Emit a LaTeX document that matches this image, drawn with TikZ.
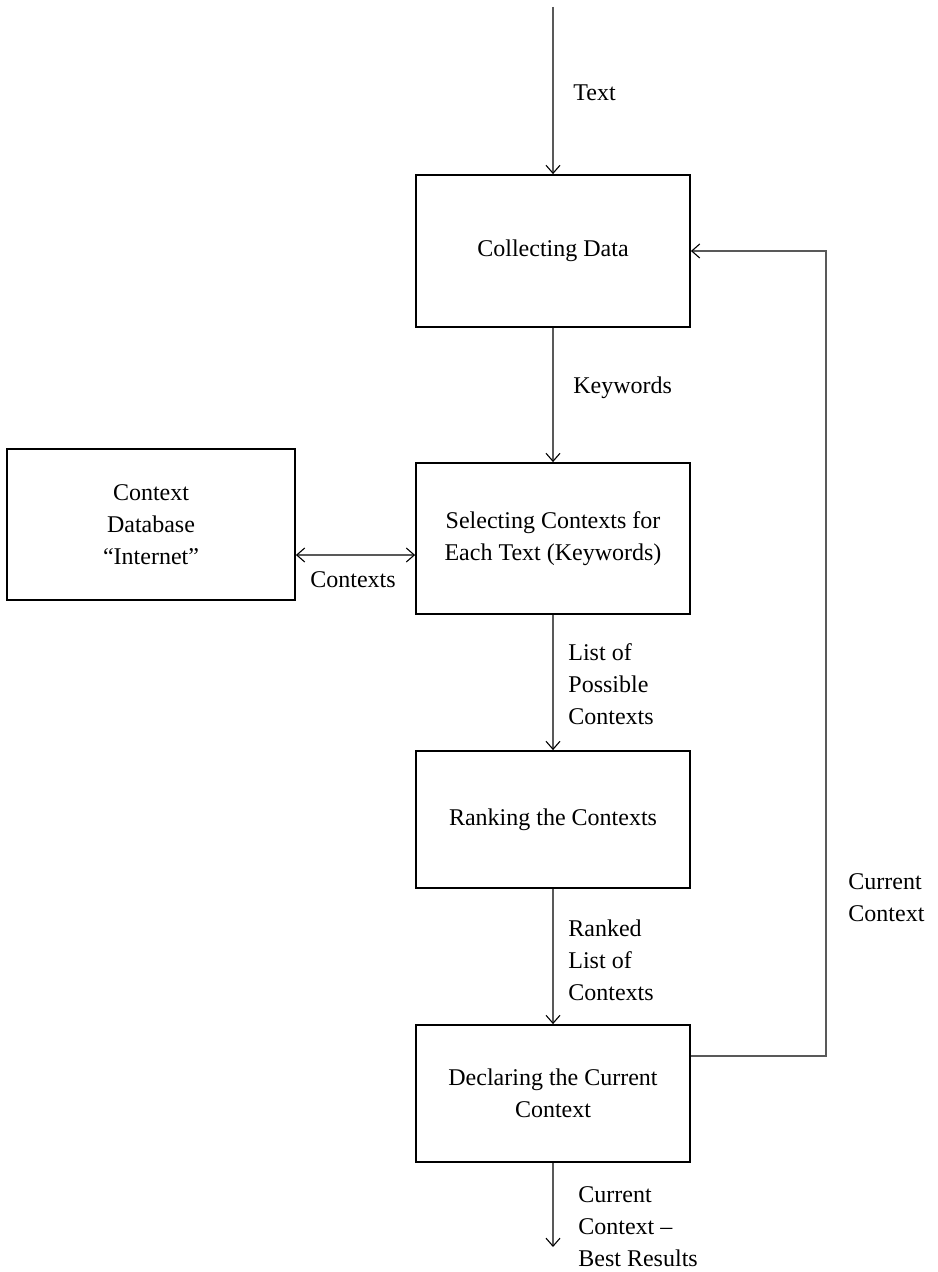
\documentclass[tikz,border=0pt]{standalone}
\usepackage{fontspec}
\setmainfont{Liberation Serif}
\usetikzlibrary{arrows.meta}
\begin{document}
\begin{tikzpicture}[x=0.5pt,y=-0.5pt,
  box/.style={draw=black,line width=0.9pt,align=center,inner sep=2pt,
    font=\fontsize{12pt}{16pt}\selectfont},
  lbl/.style={align=left,inner sep=0pt,anchor=west,font=\fontsize{12pt}{16pt}\selectfont},
  conn/.style={draw=black!65,line width=0.55pt,-{Straight Barb[length=4pt,width=7pt,black]}},
  conn2/.style={draw=black!65,line width=0.55pt,{Straight Barb[length=4pt,width=7pt,black]}-{Straight Barb[length=4pt,width=7pt,black]}}]
\useasboundingbox (0,0) rectangle (937,1272);
\node[box,minimum width=137pt,minimum height=76pt] (cd) at (553,251) {Collecting Data};
\node[box,minimum width=137pt,minimum height=75.5pt] (sel) at (553,538.5) {Selecting Contexts for\\Each Text (Keywords)};
\node[box,minimum width=144pt,minimum height=75.5pt] (db) at (151,524.5) {Context\\Database\\``Internet''};
\node[box,minimum width=137pt,minimum height=68.5pt] (rank) at (553,819.5) {Ranking the Contexts};
\node[box,minimum width=137pt,minimum height=68.5pt] (decl) at (553,1093.5) {Declaring the Current\\Context};
\coordinate (top) at (553,7);
\coordinate (bot) at (553,1247);
\coordinate (fb1) at (826,1056);
\coordinate (fb2) at (826,251);
\draw[conn] (top) -- (cd.north);
\draw[conn] (cd.south) -- (sel.north);
\draw[conn2] (db.east |- 0,555) -- (sel.west |- 0,555);
\draw[conn] (sel.south) -- (rank.north);
\draw[conn] (rank.south) -- (decl.north);
\draw[conn] (decl.south) -- (bot);
\draw[conn] (decl.east |- fb1) -- (fb1) -- (fb2) -- (cd.east);
\node[lbl] (t1) at (573,93) {Text};
\node[lbl] (t2) at (573,388) {Keywords};
\node[lbl,anchor=center] (t3) at (353,580) {Contexts};
\node[lbl] (t4) at (568,684) {List of\\Possible\\Contexts};
\node[lbl] (t5) at (568,960) {Ranked\\List of\\Contexts};
\node[lbl] (t6) at (848,898) {Current\\Context};
\node[lbl] (t7) at (578,1227) {Current\\Context --\\Best Results};
\end{tikzpicture}
\end{document}
